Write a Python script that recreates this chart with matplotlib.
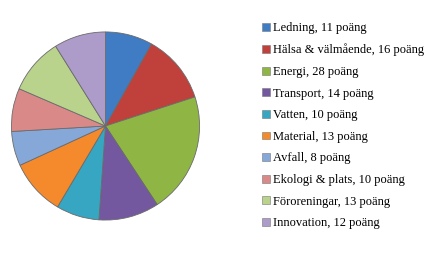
import matplotlib
matplotlib.use("Agg")
import matplotlib.pyplot as plt
from matplotlib.patches import Patch

# Categories and points
labels = ['Ledning', 'Hälsa & välmående', 'Energi', 'Transport', 'Vatten',
          'Material', 'Avfall', 'Ekologi & plats', 'Föroreningar', 'Innovation']
points = [11, 16, 28, 14, 10, 13, 8, 10, 13, 12]
colors = ['#3f7cc4', '#c0403c', '#8fb545', '#7358a0', '#36a6c2',
          '#f48a2c', '#86a8d8', '#d98a88', '#b9d38d', '#ad9bc9']

fig = plt.figure(figsize=(4.34, 2.6), dpi=100)
ax = fig.add_axes([10/434, 1 - 221/260, 191/434, 190/260])

ax.pie(points, colors=colors, startangle=90, counterclock=False,
       wedgeprops=dict(edgecolor='#6a6a6a', linewidth=0.6))
ax.set_xlim(-1.01, 1.01)
ax.set_ylim(-1.01, 1.01)
ax.set_aspect('equal')

handles = [Patch(facecolor=c, edgecolor='#777777', linewidth=0.4) for c in colors]
leg_labels = [f'{l}, {p} poäng' for l, p in zip(labels, points)]
fig.legend(handles, leg_labels, loc='upper left', bbox_to_anchor=(262/434, 1 - 22/260),
           frameon=False, prop={'family': 'Liberation Serif', 'size': 9},
           handlelength=0.6, handleheight=0.6, handletextpad=0.3,
           labelspacing=0.77, borderaxespad=0, borderpad=0)

fig.savefig('out.png', dpi=100)
